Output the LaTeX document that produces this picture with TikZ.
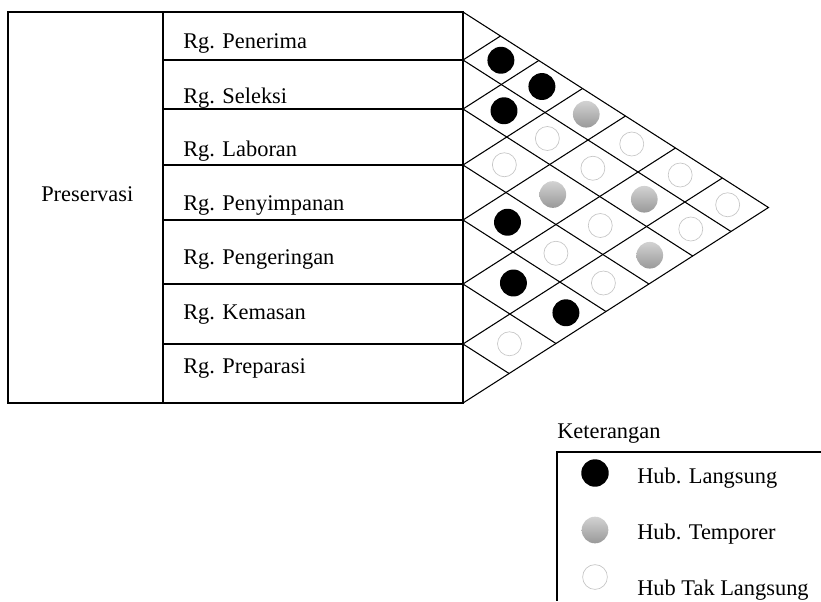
\documentclass[tikz,border=0pt]{standalone}
\usepackage{fontspec}
\setmainfont{Liberation Serif}
\begin{document}
\begin{tikzpicture}[x=0.75pt,y=-0.75pt,
  frame/.style={draw=black,line width=0.8pt},
  grid/.style={draw=black,line width=0.8pt},
  lbl/.style={anchor=base west,inner sep=0pt,font=\fontsize{16.8}{20}\selectfont},
  blk/.style={fill=black},
  gry/.style={top color=gray!35,bottom color=gray!80,shading angle=0},
  wht/.style={draw=gray!45,line width=0.5pt,fill=white}]
\useasboundingbox (0,0) rectangle (821,601);
% left table
\draw[frame] (8,12) rectangle (463,403);
\draw[frame] (163,12) -- (163,403);
\foreach \y in {60,109,165,220,284,344} \draw[frame] (163,\y) -- (463,\y);
\node[lbl] (pres) at (41,201) {Preservasi};
\node[lbl] (r0) at (183,48) {Rg. Penerima};
\node[lbl] (r1) at (183,103) {Rg. Seleksi};
\node[lbl] (r2) at (183,156) {Rg. Laboran};
\node[lbl] (r3) at (183,210) {Rg. Penyimpanan};
\node[lbl] (r4) at (183,264) {Rg. Pengeringan};
\node[lbl] (r5) at (183,319) {Rg. Kemasan};
\node[lbl] (r6) at (183,373) {Rg. Preparasi};
% triangle matrix
\draw[grid] (463,12) -- ({463+391/1.28},207.5) -- (463,403);
\foreach \y in {60,109,165,220,284,344} {
  \draw[grid] (463,\y) -- ({463+(403-\y)/1.28},{(403+\y)/2});
  \draw[grid] (463,\y) -- ({463+(\y-12)/1.28},{(\y+12)/2});
}
\foreach \i/\j/\st/\dx/\r in {0/1/blk/0/10.1,0/2/blk/0/10.1,1/2/blk/0/10.1,0/3/gry/1/10,
  1/3/wht/0/9,0/4/wht/0/9,2/3/wht/-2/9,1/4/wht/-1/9,0/5/wht/0/9,2/4/gry/0/10,
  1/5/gry/2/10,0/6/wht/1/9,3/4/blk/-2/10.1,2/5/wht/-1/9,1/6/wht/2/9,3/5/wht/-2/9,
  2/6/gry/2/10,4/5/blk/2/10.1,3/6/wht/-1/9,4/6/blk/8/10.1,5/6/wht/0/9} {
  \pgfmathsetmacro\mi{{36,84.5,137,192.5,252,314,373.5}[\i]}
  \pgfmathsetmacro\mj{{36,84.5,137,192.5,252,314,373.5}[\j]}
  \pgfmathsetmacro\cx{463+(\mj-\mi)/1.28+\dx}
  \pgfmathsetmacro\cy{(\mi+\mj)/2}
  \path[\st] (\cx,\cy) circle[radius=\r pt];
}
% legend
\node[lbl] (ket) at (557,438) {Keterangan};
\draw[frame] (821,452) -- (557,452) -- (557,601);
\path[blk] (595,473) circle[radius=10.3pt];
\path[gry] (595,530) circle[radius=10pt];
\path[wht] (595,577) circle[radius=9.3pt];
\node[lbl] (l1) at (637,483) {Hub. Langsung};
\node[lbl] (l2) at (637,539) {Hub. Temporer};
\node[lbl] (l3) at (637,595) {Hub Tak Langsung};
\end{tikzpicture}
\end{document}
